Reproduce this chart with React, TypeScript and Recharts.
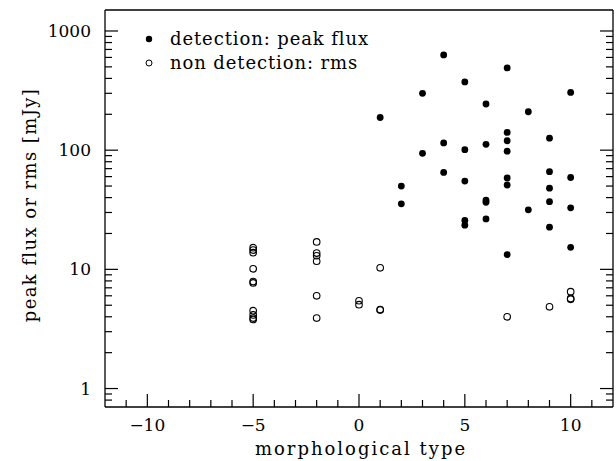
import React from "react";
import { ScatterChart, Scatter, XAxis, YAxis, Legend } from "recharts";

// detections: morphological type and peak flux [mJy]
const detType = [1, 2, 2, 3, 3, 4, 4, 4, 5, 5, 5, 5, 5, 6, 6, 6, 6, 6, 7, 7, 7, 7, 7, 7, 7, 8, 8, 9, 9, 9, 9, 9, 10, 10, 10, 10];
const detFlux = [188, 50, 35.5, 300, 94, 630, 115, 65, 374, 101, 55, 25.7, 23.5, 244, 112, 38, 36.5, 26.5, 490, 141, 120, 98, 58.5, 51, 13.3, 210, 31.6, 126, 66, 48, 37, 22.6, 305, 59, 32.8, 15.3];

// non detections: morphological type and rms [mJy]
const ndType = [-5, -5, -5, -5, -5, -5, -5, -5, -5, -5, -2, -2, -2, -2, -2, -2, 0, 0, 1, 1, 1, 7, 9, 10, 10, 10];
const ndRms = [15.2, 14.5, 13.8, 10.1, 7.9, 7.7, 4.5, 4.15, 3.9, 3.8, 17, 13.7, 13.0, 11.7, 6.0, 3.9, 5.45, 5.05, 10.3, 4.6, 4.55, 4.0, 4.85, 6.5, 5.7, 5.6];

const xTicks = [-11, -10, -9, -8, -7, -6, -5, -4, -3, -2, -1, 0, 1, 2, 3, 4, 5, 6, 7, 8, 9, 10, 11];
const xMajor = [-10, -5, 0, 5, 10];
const yTicks = [0.8, 0.9, 1, 2, 3, 4, 5, 6, 7, 8, 9, 10, 20, 30, 40, 50, 60, 70, 80, 90, 100, 200, 300, 400, 500, 600, 700, 800, 900, 1000];
const yMajor = [1, 10, 100, 1000];

const detections = detType.map((t, i) => ({ type: t, flux: detFlux[i] }));
const nonDetections = ndType.map((t, i) => ({ type: t, flux: ndRms[i] }));

const FONT = "'DejaVu Serif', serif";
const FS = 17;
const LFS = 18;
const BIG = 13;
const SMALL = 7;

const fmt = (v: number) => (v < 0 ? "\u2212" + Math.abs(v) : String(v));

const BottomTick = (props: any) => {
  const { x, y, payload } = props;
  const major = xMajor.includes(payload.value);
  return (
    <g>
      <line x1={x} x2={x} y1={y} y2={y - (major ? BIG : SMALL)} stroke="#000" strokeWidth={1.2} />
      {major && (
        <text x={x} y={y + 24} textAnchor="middle" fontFamily={FONT} fontSize={FS} fill="#000">
          {fmt(payload.value)}
        </text>
      )}
    </g>
  );
};

const TopTick = (props: any) => {
  const { x, y, payload } = props;
  const major = xMajor.includes(payload.value);
  return <line x1={x} x2={x} y1={y} y2={y + (major ? BIG : SMALL)} stroke="#000" strokeWidth={1.2} />;
};

const LeftTick = (props: any) => {
  const { x, y, payload } = props;
  const major = yMajor.includes(payload.value);
  return (
    <g>
      <line x1={x} x2={x + (major ? BIG : SMALL)} y1={y} y2={y} stroke="#000" strokeWidth={1.2} />
      {major && (
        <text x={x - 14} y={y} dy="0.36em" textAnchor="end" fontFamily={FONT} fontSize={FS} fill="#000">
          {payload.value}
        </text>
      )}
    </g>
  );
};

const RightTick = (props: any) => {
  const { x, y, payload } = props;
  const major = yMajor.includes(payload.value);
  return <line x1={x} x2={x - (major ? BIG : SMALL)} y1={y} y2={y} stroke="#000" strokeWidth={1.2} />;
};

const FilledDot = (props: any) => <circle cx={props.cx} cy={props.cy} r={3.4} fill="#000" />;
const OpenDot = (props: any) => (
  <circle cx={props.cx} cy={props.cy} r={3.3} fill="none" stroke="#000" strokeWidth={1.1} />
);

const LegendBox = () => (
  <div style={{ fontFamily: FONT, fontSize: LFS, color: "#000", lineHeight: "24px", letterSpacing: 0.9 }}>
    <div style={{ display: "flex", alignItems: "center", height: 24 }}>
      <svg width={14} height={14}>
        <circle cx={7} cy={7} r={3.2} fill="#000" />
      </svg>
      <span style={{ marginLeft: 14 }}>detection: peak flux</span>
    </div>
    <div style={{ display: "flex", alignItems: "center", height: 24 }}>
      <svg width={14} height={14}>
        <circle cx={7} cy={7} r={3} fill="none" stroke="#000" strokeWidth={1} />
      </svg>
      <span style={{ marginLeft: 14 }}>non detection: rms</span>
    </div>
  </div>
);

export default function App() {
  return (
    <div style={{ position: "absolute", left: 0, top: 0, background: "#fff" }}>
      <ScatterChart width={616} height={461} margin={{ top: 0, right: 0, bottom: 0, left: 0 }}>
        <XAxis
          xAxisId="bottom"
          dataKey="type"
          type="number"
          domain={[-12, 12]}
          allowDataOverflow
          ticks={xTicks}
          interval={0}
          tickSize={0}
          tickMargin={0}
          tickLine={false}
          tick={<BottomTick />}
          axisLine={{ stroke: "#000", strokeWidth: 1.3 }}
          height={54}
          label={{
            content: () => (
              <text
                x={361}
                y={455}
                textAnchor="middle"
                fontFamily={FONT}
                fontSize={LFS}
                letterSpacing={2}
                fill="#000"
              >
                morphological type
              </text>
            ),
          }}
        />
        <XAxis
          xAxisId="top"
          orientation="top"
          type="number"
          domain={[-12, 12]}
          allowDataOverflow
          ticks={xTicks}
          interval={0}
          tickSize={0}
          tickMargin={0}
          tickLine={false}
          tick={<TopTick />}
          axisLine={{ stroke: "#000", strokeWidth: 1.3 }}
          height={10}
        />
        <YAxis
          yAxisId="left"
          dataKey="flux"
          type="number"
          scale="log"
          domain={[0.7, 1500]}
          allowDataOverflow
          ticks={yTicks}
          interval={0}
          tickSize={0}
          tickMargin={0}
          tickLine={false}
          tick={<LeftTick />}
          axisLine={{ stroke: "#000", strokeWidth: 1.3 }}
          width={105}
          label={{
            content: () => (
              <text
                x={30}
                y={205}
                transform="rotate(-90 30 205)"
                textAnchor="middle"
                dy="0.36em"
                fontFamily={FONT}
                fontSize={LFS}
                letterSpacing={1.4}
                fill="#000"
              >
                peak flux or rms [mJy]
              </text>
            ),
          }}
        />
        <YAxis
          yAxisId="right"
          orientation="right"
          type="number"
          scale="log"
          domain={[0.7, 1500]}
          allowDataOverflow
          ticks={yTicks}
          interval={0}
          tickSize={0}
          tickMargin={0}
          tickLine={false}
          tick={<RightTick />}
          axisLine={{ stroke: "#000", strokeWidth: 1.3 }}
          width={3}
        />
        <Legend
          layout="horizontal"
          verticalAlign="middle"
          align="center"
          wrapperStyle={{ left: 142, top: 27, width: 300 }}
          content={() => <LegendBox />}
        />
        <Scatter
          name="detection: peak flux"
          data={detections}
          xAxisId="bottom"
          yAxisId="left"
          shape={FilledDot}
          isAnimationActive={false}
        />
        <Scatter
          name="non detection: rms"
          data={nonDetections}
          xAxisId="bottom"
          yAxisId="left"
          shape={OpenDot}
          isAnimationActive={false}
        />
      </ScatterChart>
    </div>
  );
}
